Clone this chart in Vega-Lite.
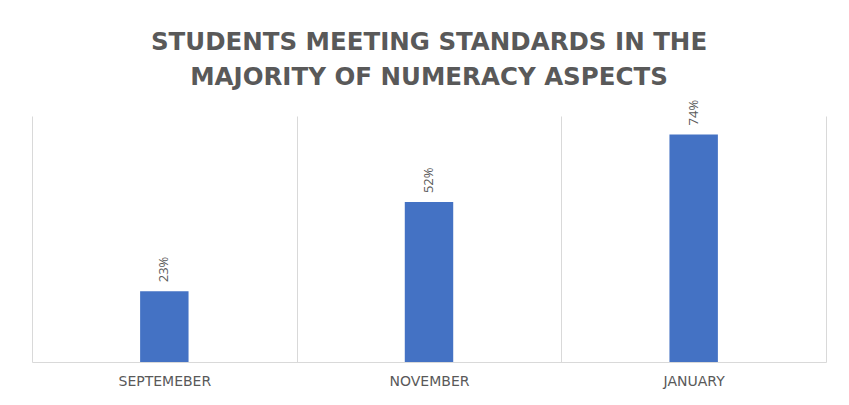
{
  "$schema": "https://vega.github.io/schema/vega-lite/v6.json",
  "autosize": "none",
  "width": 794,
  "height": 246,
  "padding": {"left": 32, "top": 116, "right": 23, "bottom": 43},
  "background": "white",
  "title": {
    "text": ["STUDENTS MEETING STANDARDS IN THE", "MAJORITY OF NUMERACY ASPECTS"],
    "font": "DejaVu Sans",
    "fontSize": 24.5,
    "fontWeight": "bold",
    "color": "#595959",
    "lineHeight": 35,
    "anchor": "middle",
    "offset": 9
  },
  "data": {
    "values": [
      {"month": "SEPTEMEBER", "pct": 0.23},
      {"month": "NOVEMBER", "pct": 0.52},
      {"month": "JANUARY", "pct": 0.74}
    ]
  },
  "encoding": {
    "x": {
      "field": "month",
      "type": "nominal",
      "sort": null,
      "scale": {"paddingInner": 0, "paddingOuter": 0},
      "axis": {
        "title": null,
        "labelAngle": 0,
        "labelFont": "DejaVu Sans",
        "labelFontSize": 14,
        "labelColor": "#595959",
        "labelPadding": 12,
        "ticks": false,
        "domainColor": "#d9d9d9",
        "grid": true,
        "gridColor": "#d9d9d9",
        "tickBand": "extent"
      }
    },
    "y": {
      "field": "pct",
      "type": "quantitative",
      "scale": {"domain": [0, 0.8]},
      "axis": null
    }
  },
  "layer": [
    {"mark": {"type": "bar", "color": "#4472C4", "width": {"band": 0.183}}},
    {
      "mark": {"type": "text", "angle": 270, "align": "left", "baseline": "middle", "dx": 9, "font": "Open Sans", "fontSize": 13, "color": "#595959"},
      "encoding": {"text": {"field": "pct", "type": "quantitative", "format": ".0%"}}
    }
  ],
  "config": {"view": {"stroke": null}}
}
